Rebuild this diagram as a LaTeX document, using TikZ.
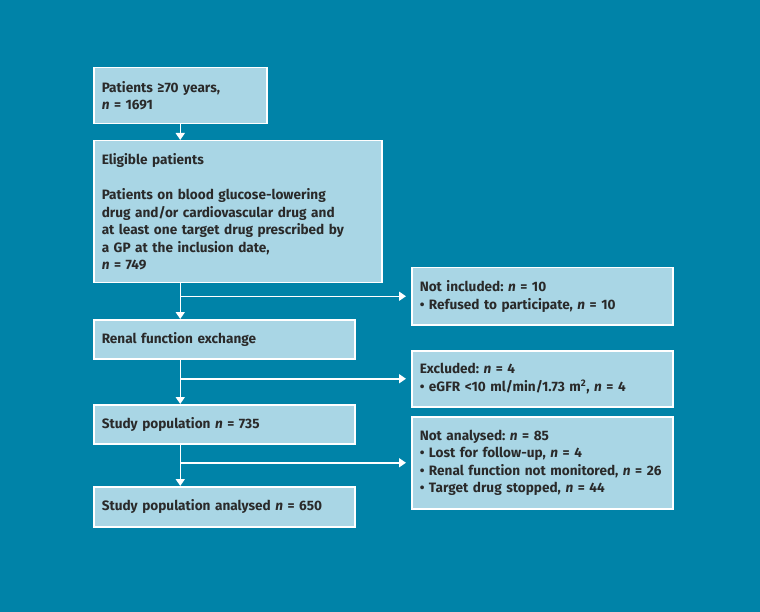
\documentclass[tikz,border=0pt]{standalone}
\usepackage{fontspec}
\setmainfont{Fira Sans}
\usetikzlibrary{arrows.meta}
\definecolor{bg}{HTML}{0083A8}
\definecolor{boxfill}{HTML}{A9D6E5}
\definecolor{txt}{HTML}{2A2A2A}
\frenchspacing
\begin{document}
\begin{tikzpicture}[x=1pt,y=-1pt,
 box/.style={draw=white,line width=1.5pt,fill=boxfill,anchor=north west,align=left,inner xsep=8pt,inner ysep=0pt,font=\fontsize{13.6}{17.5}\selectfont\bfseries,text=txt},
 conn/.style={white,line width=1.5pt,-{Triangle[width=9pt,length=7pt]}}]
\fill[bg] (0,0) rectangle (760,612);
\useasboundingbox (0,0) rectangle (760,612);
\node[box,text width=157pt,minimum height=56pt] (p) at (93,67) {Patients ≥70 years,\\\textit{n} = 1691};
\node[box,text width=272pt,minimum height=142pt] (e) at (93,140) {Eligible patients\\[17.5pt]Patients on blood glucose-lowering\\drug and/or cardiovascular drug and\\at least one target drug prescribed by\\a GP at the inclusion date,\\\textit{n} = 749};
\node[box,text width=245pt,minimum height=39pt] (r) at (93,319) {Renal function exchange};
\node[box,text width=245pt,minimum height=39pt] (s) at (93,404) {Study population \textit{n} = 735};
\node[box,text width=245pt,minimum height=40pt] (a) at (93,486) {Study population analysed \textit{n} = 650};
\node[box,text width=245pt,minimum height=57pt] (n1) at (411,267) {Not included: \textit{n} = 10\\• Refused to participate, \textit{n} = 10};
\node[box,text width=245pt,minimum height=56pt] (n2) at (411,350) {Excluded: \textit{n} = 4\\• eGFR <10 ml/min/1.73 m\textsuperscript{2}, \textit{n} = 4};
\node[box,text width=245pt,minimum height=92pt] (n3) at (411,416) {Not analysed: \textit{n} = 85\\• Lost for follow-up, \textit{n} = 4\\\mbox{• Renal function not monitored, \textit{n} = 26}\\• Target drug stopped, \textit{n} = 44};
\draw[conn] (p.south) -- (p.south |- e.north);
\draw[conn] (p.south |- e.south) -- (p.south |- r.north);
\draw[conn] (p.south |- r.south) -- (p.south |- s.north);
\draw[conn] (p.south |- s.south) -- (p.south |- a.north);
\draw[conn,shorten >=5pt] (p.south |- n1.west) -- (n1.west);
\draw[conn,shorten >=5pt] (p.south |- n2.west) -- (n2.west);
\draw[conn,shorten >=5pt] (p.south |- n3.west) -- (n3.west);
\end{tikzpicture}
\end{document}
